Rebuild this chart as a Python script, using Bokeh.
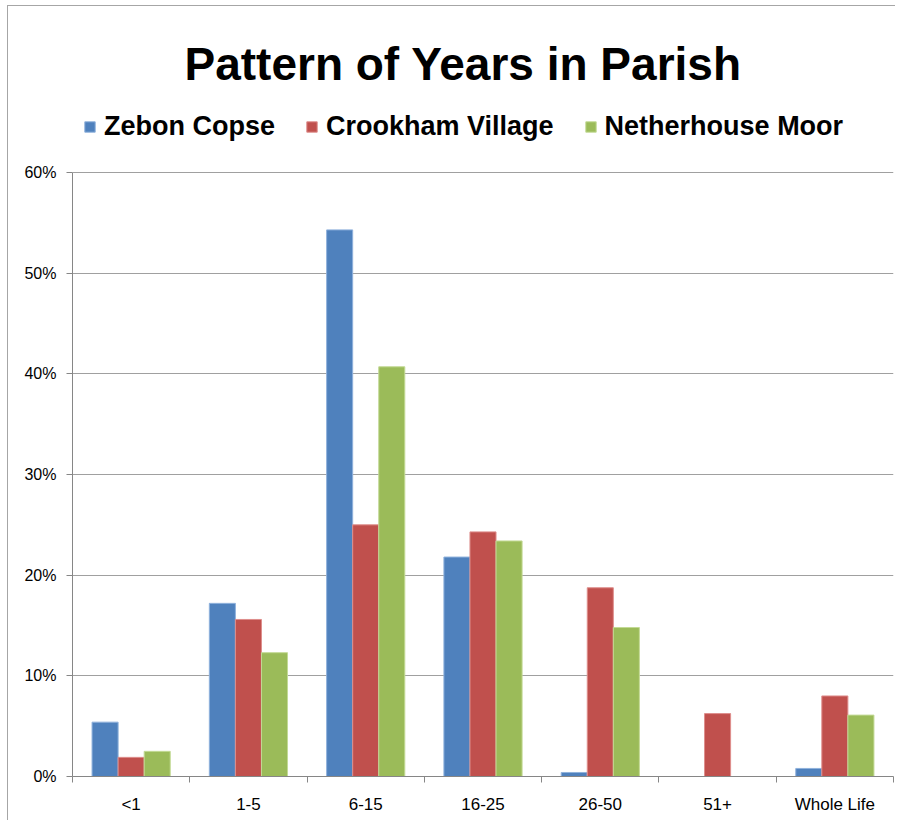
from bokeh.plotting import figure
from bokeh.models import (ColumnDataSource, Range1d, FixedTicker,
                          NumeralTickFormatter, Legend, LegendItem)
from bokeh.transform import dodge
from bokeh.embed import file_html
from bokeh.resources import INLINE

categories = ["<1", "1-5", "6-15", "16-25", "26-50", "51+", "Whole Life"]
series_names = ["Zebon Copse", "Crookham Village", "Netherhouse Moor"]
zebon = [0.054, 0.172, 0.543, 0.218, 0.004, 0.0, 0.008]
crookham = [0.019, 0.156, 0.250, 0.243, 0.1875, 0.0625, 0.080]
netherhouse = [0.025, 0.123, 0.407, 0.234, 0.148, 0.0, 0.061]
colors = ["#4F81BD", "#C0504D", "#9BBB59"]
edge_colors = ["#8FB1DC", "#DE8E8C", "#C3DA95"]
y_ticks = [0.0, 0.1, 0.2, 0.3, 0.4, 0.5, 0.6]

FONT = "Liberation Sans"

n = len(categories)
centers = [i + 0.5 for i in range(n)]
source = ColumnDataSource(dict(cat=categories, xc=centers, zebon=zebon, crookham=crookham,
                               netherhouse=netherhouse))

# the frame extends above 60% to leave room for the legend; the axis stops at 60%
p = figure(width=888, height=815, x_range=Range1d(0, n),
           y_range=Range1d(0, 0.6765), output_backend="svg", toolbar_location=None,
           min_border_left=64, min_border_right=3,
           min_border_top=89, min_border_bottom=45)
p.outline_line_color = None
p.background_fill_color = "white"
p.border_fill_color = "white"
p.styles = {"border-left": "1px solid #A6A6A6", "border-top": "1px solid #A6A6A6",
            "margin-left": "7px", "margin-top": "5px"}

cols = ["zebon", "crookham", "netherhouse"]
offsets = [-0.2222, 0.0, 0.2222]
renderers = []
for col, off, c, ec in zip(cols, offsets, colors, edge_colors):
    r = p.vbar(x=dodge("xc", off), top=col, width=0.2222, bottom=0,
               source=source, fill_color=c, line_color=ec, line_width=1)
    renderers.append(r)

# y axis
yax = p.yaxis[0]
yax.ticker = FixedTicker(ticks=y_ticks)
yax.bounds = (0, 0.6)
yax.formatter = NumeralTickFormatter(format="0%")
yax.axis_line_color = "#868686"
yax.major_tick_line_color = "#868686"
yax.major_tick_out = 6
yax.major_tick_in = 0
yax.minor_tick_line_color = None
yax.major_label_text_font = FONT
yax.major_label_text_font_size = "16px"
yax.major_label_text_color = "#000000"
yax.major_label_standoff = 10

p.ygrid.ticker = FixedTicker(ticks=y_ticks)
p.ygrid.grid_line_color = "#A0A0A0"
p.ygrid.grid_line_width = 1
p.xgrid.grid_line_color = None

# x axis: ticks between categories, labels at centers
xax = p.xaxis[0]
xax.ticker = FixedTicker(ticks=centers, minor_ticks=list(range(n + 1)))
xax.major_label_overrides = {c: lab for c, lab in zip(centers, categories)}
xax.axis_line_color = "#868686"
xax.major_tick_line_color = None
xax.minor_tick_line_color = "#868686"
xax.minor_tick_out = 6
xax.minor_tick_in = 0
xax.major_label_text_font = FONT
xax.major_label_text_font_size = "17px"
xax.major_label_text_color = "#000000"
xax.major_label_standoff = 12

# legend (inside the top band of the frame)
legend = Legend(items=[LegendItem(label=s, renderers=[r]) for s, r in zip(series_names, renderers)],
                orientation="horizontal", location=(11, 634))
legend.label_text_font = FONT
legend.label_text_font_style = "bold"
legend.label_text_font_size = "27px"
legend.label_text_color = "#000000"
legend.label_height = 30
legend.glyph_width = 13
legend.glyph_height = 13
legend.label_standoff = 8
legend.spacing = 30
legend.padding = 0
legend.margin = 0
legend.border_line_color = None
legend.background_fill_alpha = 0
p.add_layout(legend, "center")

# title
p.title.text = "Pattern of Years in Parish"
p.title.align = "left"
p.title.offset = 112
p.title.text_font = FONT
p.title.text_font_style = "bold"
p.title.text_font_size = "46px"
p.title.text_color = "#000000"
p.title.standoff = 11

open("out.html", "w").write(file_html(p, INLINE))
